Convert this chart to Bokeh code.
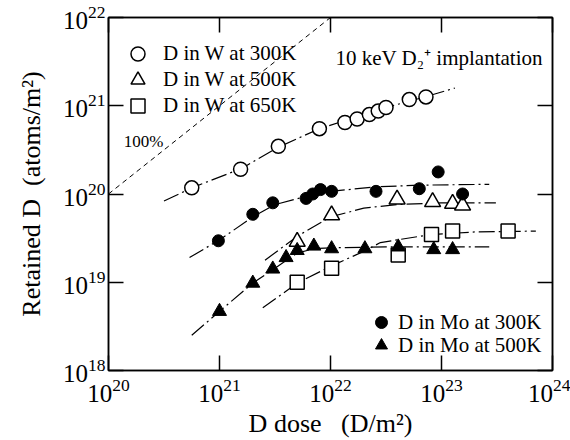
import numpy as np
from bokeh.plotting import figure
from bokeh.models import LogAxis, FixedTicker, Legend, LegendItem, Label
from bokeh.embed import file_html
from bokeh.resources import INLINE

# ---- data (log10 values) ----
w300_x = [20.75, 21.19, 21.53, 21.90, 22.13, 22.24, 22.35, 22.43, 22.50, 22.71, 22.86]
w300_y = [20.07, 20.28, 20.54, 20.74, 20.81, 20.85, 20.90, 20.94, 20.98, 21.07, 21.10]

w500_x = [21.70, 22.01, 22.60, 22.92, 23.10, 23.19]
w500_y = [19.46, 19.76, 19.94, 19.91, 19.89, 19.87]

w650_x = [21.70, 22.01, 22.61, 22.91, 23.10, 23.60]
w650_y = [19.00, 19.16, 19.31, 19.54, 19.58, 19.58]

mo300_x = [20.99, 21.30, 21.48, 21.78, 21.84, 21.91, 22.01, 22.41, 22.80, 22.97, 23.19]
mo300_y = [19.47, 19.77, 19.90, 19.95, 20.00, 20.05, 20.03, 20.03, 20.06, 20.25, 20.00]

mo500_x = [21.00, 21.30, 21.48, 21.60, 21.70, 21.85, 22.01, 22.31, 22.61, 22.93, 23.10]
mo500_y = [18.67, 18.99, 19.15, 19.28, 19.36, 19.41, 19.38, 19.38, 19.40, 19.37, 19.37]

# fitted curves
fit_w300_x = [20.50, 20.75, 21.20, 21.53, 21.90, 22.50, 22.85, 23.12]
fit_w300_y = [19.92, 20.07, 20.29, 20.53, 20.74, 20.98, 21.10, 21.20]

fit_mo300_x = [20.73, 21.00, 21.30, 21.50, 21.80, 22.00, 22.40, 22.80, 23.43]
fit_mo300_y = [19.28, 19.48, 19.74, 19.88, 19.98, 20.03, 20.08, 20.10, 20.11]

fit_w500_x = [21.41, 21.70, 22.00, 22.30, 22.60, 23.00, 23.49]
fit_w500_y = [19.25, 19.52, 19.74, 19.84, 19.88, 19.90, 19.90]

fit_w650_x = [21.39, 21.70, 22.00, 22.30, 22.45, 22.90, 23.30, 23.85]
fit_w650_y = [18.71, 18.99, 19.18, 19.35, 19.45, 19.54, 19.57, 19.58]

fit_mo500_x = [20.75, 21.00, 21.30, 21.50, 21.70, 21.85, 22.00, 22.50, 23.43]
fit_mo500_y = [18.40, 18.67, 18.99, 19.16, 19.33, 19.38, 19.39, 19.40, 19.40]

line100_x = [20.0, 22.0]
line100_y = [20.0, 22.0]

x_ticks = [1e20, 1e21, 1e22, 1e23, 1e24]
y_ticks = [1e18, 1e19, 1e20, 1e21, 1e22]

w_labels = ["D in W at 300K", "D in W at 500K", "D in W at 650K"]
mo_labels = ["D in Mo at 300K", "D in Mo at 500K"]


def p10(a):
    return [10.0 ** v for v in a]


SERIF = "Liberation Serif"

p = figure(width=570, height=440, x_axis_type="log", y_axis_type="log",
           x_range=(1e20, 1e24), y_range=(1e18, 1e22),
           output_backend="svg", toolbar_location=None,
           min_border_left=108, min_border_right=18, min_border_top=17, min_border_bottom=67)
p.background_fill_color = "white"
p.border_fill_color = "white"
p.outline_line_color = "black"
p.outline_line_width = 1.5
p.xgrid.visible = False
p.ygrid.visible = False


def style_axis(ax, ticks, labels=True):
    ax.ticker = FixedTicker(ticks=ticks, num_minor_ticks=0)
    ax.major_tick_in = 15
    ax.major_tick_out = 0
    ax.minor_tick_line_color = None
    ax.major_tick_line_width = 1.5
    ax.axis_line_color = "black"
    ax.axis_line_width = 1.5
    ax.major_label_text_font = SERIF
    ax.major_label_text_font_size = "25px"
    ax.major_label_text_color = "black"
    ax.axis_label_text_font = SERIF
    ax.axis_label_text_font_size = "26px"
    ax.axis_label_text_font_style = "normal"
    ax.axis_label_text_color = "black"
    if not labels:
        ax.major_label_text_font_size = "0px"
        ax.major_label_text_alpha = 0


for ax in p.xaxis:
    style_axis(ax, x_ticks)
    ax.major_label_standoff = 8
    ax.axis_label = "D dose\u00a0\u00a0\u00a0(D/m\u00b2)"
    ax.axis_label_standoff = 4
for ax in p.yaxis:
    style_axis(ax, y_ticks)
    ax.major_label_standoff = 3
    ax.axis_label = "Retained D\u00a0\u00a0(atoms/m\u00b2)"
    ax.axis_label_standoff = 14

top = LogAxis()
style_axis(top, x_ticks, labels=False)
p.add_layout(top, "above")
right = LogAxis()
style_axis(right, y_ticks, labels=False)
p.add_layout(right, "right")

# 100% line
p.line(p10(line100_x), p10(line100_y), line_color="black", line_dash="5 4", line_width=1)
p.text([10 ** 20.315], [10 ** 20.60], text=["100%"], text_font=SERIF,
       text_font_size="17px", text_align="center", text_baseline="middle", text_color="black")

dash = "16 4 2 4"
for fx, fy in [(fit_w300_x, fit_w300_y), (fit_mo300_x, fit_mo300_y), (fit_w500_x, fit_w500_y),
               (fit_w650_x, fit_w650_y), (fit_mo500_x, fit_mo500_y)]:
    p.line(p10(fx), p10(fy), line_color="black", line_width=1.2, line_dash=dash)

r_w300 = p.scatter(p10(w300_x), p10(w300_y), marker="circle", size=14,
                   fill_color="white", line_color="black", line_width=1.5)
r_w500 = p.scatter(p10(w500_x), p10(w500_y), marker="triangle", size=16,
                   fill_color="white", line_color="black", line_width=1.5)
r_w650 = p.scatter(p10(w650_x), p10(w650_y), marker="square", size=14,
                   fill_color="white", line_color="black", line_width=1.5)
r_mo300 = p.scatter(p10(mo300_x), p10(mo300_y), marker="circle", size=12,
                    fill_color="black", line_color="black")
r_mo500 = p.scatter(p10(mo500_x), p10(mo500_y), marker="triangle", size=14,
                    fill_color="black", line_color="black")


def one_legend(label, renderer, loc, box, standoff):
    return Legend(items=[LegendItem(label=label, renderers=[renderer])],
                  location=loc, glyph_width=box, glyph_height=box, label_height=20,
                  spacing=0, padding=0, margin=0, label_standoff=standoff,
                  background_fill_alpha=0, border_line_alpha=0,
                  label_text_font=SERIF, label_text_font_size="21px",
                  label_text_color="black")


for lab, r, y in zip(w_labels, [r_w300, r_w500, r_w650], [299, 273, 247]):
    p.add_layout(one_legend(lab, r, (12, y), 35, 8))
for lab, r, y in zip(mo_labels, [r_mo300, r_mo500], [33, 10]):
    p.add_layout(one_legend(lab, r, (258, y), 30, 2))

p.add_layout(Label(x=10 ** 22.045, y=10 ** 21.54, text="10 keV D\u2082\u207a implantation",
                   text_font=SERIF, text_font_size="21px", text_baseline="middle",
                   text_align="left", text_color="black"))

open("out.html", "w").write(file_html(p, INLINE))
